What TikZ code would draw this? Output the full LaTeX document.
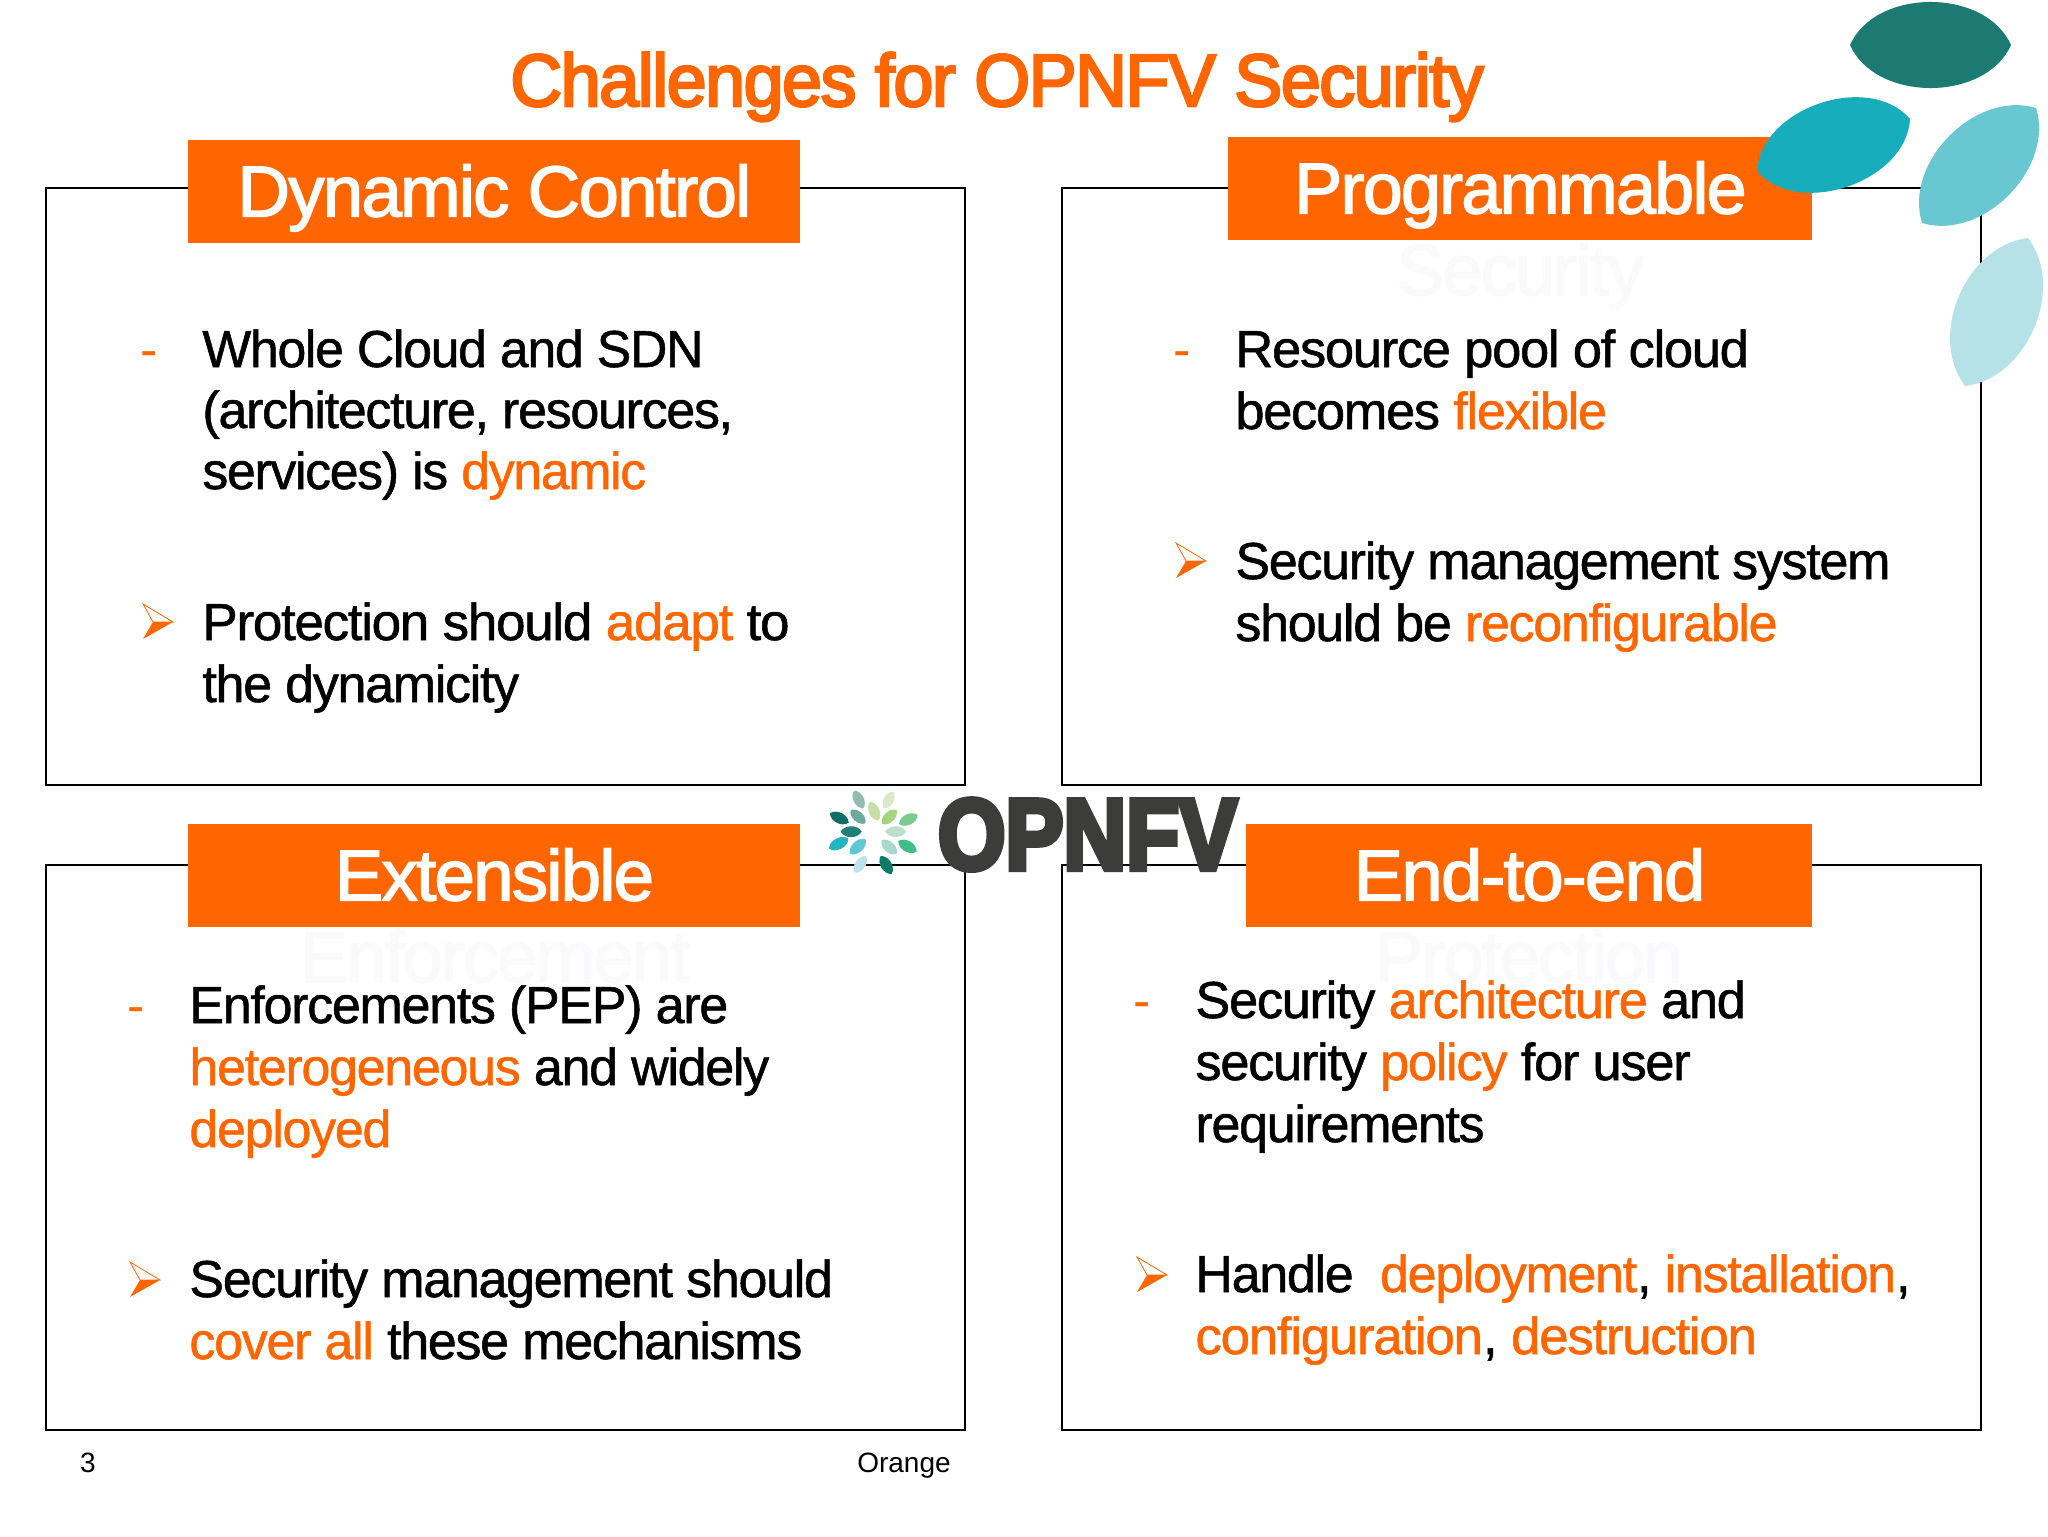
\documentclass[tikz,border=0pt]{standalone}
\usepackage{fontspec}
\setmainfont{Liberation Sans}[LetterSpace=-2.5,FakeBold=1]
\newfontfamily\headfont{Liberation Sans}[LetterSpace=-2,FakeBold=3.5]
\newfontfamily\titlefont{Liberation Sans}[LetterSpace=-2.5,FakeBold=2]
\newfontfamily\logofont{Liberation Sans Bold}[FakeBold=6]
\newfontfamily\plainfont{Liberation Sans}
\definecolor{org}{HTML}{FF6600}
\definecolor{ghost}{HTML}{FAF9FB}
\definecolor{logotxt}{HTML}{3C3C3A}
\newcommand{\hl}[1]{\textcolor{org}{#1}}
\tikzset{
  x=0.5pt,y=-0.5pt,
  panel/.style={draw=black,line width=1pt,fill=none,rectangle,inner sep=0pt,anchor=north west},
  titlebox/.style={fill=org,text=white,rectangle,inner sep=0pt,anchor=north west,minimum height=51.5pt,
     text height=38pt,text depth=13.5pt,font=\titlefont\fontsize{36}{40}\selectfont},
  ghosttext/.style={text=ghost,anchor=base,inner sep=0pt,font=\titlefont\fontsize{36}{40}\selectfont},
  body/.style={anchor=base west,inner sep=0pt,font=\fontsize{26}{31}\selectfont},
  dashbul/.style={anchor=base west,inner sep=0pt,text=org,font=\plainfont\fontsize{26}{31}\selectfont},
  foot/.style={anchor=base,inner sep=0pt,font=\plainfont\fontsize{14}{16}\selectfont},
}
% leaf between two tips: colour, x1,y1, x2,y2, bend
\newcommand{\leaf}[6]{\definecolor{lfc}{HTML}{#1}\fill[lfc] (#2,#3) to[bend left=#6] (#4,#5) to[bend left=#6] cycle;}
% logo petal in 3x zoomed coordinates
\newcommand{\petal}[5]{\leaf{#1}{#2}{#3}{#4}{#5}{62}}
% arrow bullet centred at (x,y)
\newcommand{\arrowbul}[2]{%
  \begin{scope}[shift={(#1,#2)}]
    \fill[org] (15,0) -- (-5,0) -- (-15,17) -- cycle;
    \draw[org,line width=0.4pt,line join=miter] (15,0) -- (-5,0) -- (-15,-18) -- cycle;
  \end{scope}}
\begin{document}
\begin{tikzpicture}
\useasboundingbox (0,0) rectangle (2048,1536);
\fill[white] (0,0) rectangle (2048,1536);

% panels
\node[panel,minimum width=459.5pt,minimum height=298.5pt] (p1) at (44.5,186.5) {};
\node[panel,minimum width=459.5pt,minimum height=298.5pt] (p2) at (1061,186.5) {};
\node[panel,minimum width=459.5pt,minimum height=282.5pt] (p3) at (44.5,863.5) {};
\node[panel,minimum width=459.5pt,minimum height=282.5pt] (p4) at (1061,863.5) {};

% heading
\node[anchor=base,inner sep=0pt,text=org,font=\headfont\fontsize{37}{42}\selectfont,xscale=0.97] (head) at (997,106) {Challenges for OPNFV Security};

% ghost words
\node[ghosttext] (g2) at (1520,295) {Security};
\node[ghosttext] (g3) at (495,982) {Enforcement};
\node[ghosttext] (g4) at (1529,982) {Protection};

% title boxes
\node[titlebox,minimum width=306pt] (t1) at (188,140) {\scalebox{1.01}[1]{Dynamic Control}};
\node[titlebox,minimum width=292pt] (t2) at (1228,137) {Programmable};
\node[titlebox,minimum width=306pt] (t3) at (188,824) {\scalebox{1.01}[1]{Extensible}};
\node[titlebox,minimum width=283pt] (t4) at (1246,824) {\scalebox{1.035}[1]{End-to-end}};

% panel 1
\node[dashbul] (d1) at (140,367) {-};
\node[body,xscale=0.995] (a1) at (202,367) {Whole Cloud and SDN};
\node[body] (a2) at (202,428) {(architecture, resources,};
\node[body,xscale=0.995] (a3) at (202,489) {services) is \hl{dynamic}};
\arrowbul{158}{622}
\node[body,xscale=1.02] (a4) at (202,640) {Protection should \hl{adapt} to};
\node[body] (a5) at (202,702) {the dynamicity};

% panel 2
\node[dashbul] (d2) at (1173,367) {-};
\node[body,xscale=1.01] (b1) at (1235,367) {Resource pool of cloud};
\node[body,xscale=1.007] (b2) at (1235,429) {becomes \hl{flexible}};
\arrowbul{1191}{561}
\node[body] (b3) at (1235,579) {Security management system};
\node[body] (b4) at (1235,641) {should be \hl{reconfigurable}};

% panel 3
\node[dashbul] (d3) at (127,1023) {-};
\node[body] (c1) at (189,1023) {Enforcements (PEP) are};
\node[body] (c2) at (189,1085) {\hl{heterogeneous} and widely};
\node[body] (c3) at (189,1147) {\hl{deployed}};
\arrowbul{145}{1280}
\node[body] (c4) at (189,1297) {Security management should};
\node[body] (c5) at (189,1359) {\hl{cover all} these mechanisms};

% panel 4
\node[dashbul] (d4) at (1133,1018) {-};
\node[body,xscale=1.007] (e1) at (1195,1018) {Security \hl{architecture} and};
\node[body,xscale=1.008] (e2) at (1195,1080) {security \hl{policy} for user};
\node[body] (e3) at (1195,1142) {requirements};
\arrowbul{1152}{1275}
\node[body] (e4) at (1195,1292) {Handle\ \ \hl{deployment}, \hl{installation},};
\node[body,xscale=1.019] (e5) at (1195,1354) {\hl{configuration}, \hl{destruction}};

% footer
\node[foot] (f1) at (88,1472) {3};
\node[foot] (f2) at (904,1472) {Orange};

% logo
\begin{scope}[shift={(780,760)},x=0.5pt/3,y=-0.5pt/3]
  \petal{8FBDB0}{222}{92}{250}{145}
  \petal{DCE8C8}{340}{95}{312}{145}
  \petal{C8DFA8}{270}{125}{295}{182}
  \petal{6FA89C}{212}{150}{256}{190}
  \petal{A3D47E}{350}{150}{306}{192}
  \petal{0F6E64}{150}{160}{206}{188}
  \petal{7ACB8E}{413}{165}{357}{192}
  \petal{1E8078}{182}{215}{245}{215}
  \petal{B9E0CC}{316}{215}{378}{215}
  \petal{22B5C2}{147}{266}{205}{236}
  \petal{5FC9D2}{210}{282}{257}{238}
  \petal{A9D8CC}{305}{240}{350}{282}
  \petal{3FBF85}{355}{243}{410}{275}
  \petal{BDE3EA}{258}{288}{224}{338}
  \petal{0C7C66}{302}{288}{335}{342}
\end{scope}
\node[anchor=base,inner sep=0pt,text=logotxt,xscale=0.868,font=\logofont\fontsize{50}{56}\selectfont] (logo) at (1087.5,869) {OPNFV};

% leaves
\leaf{1C7A72}{1850}{45}{2011}{45}{66}
\leaf{17ADBC}{1757}{171}{1910}{119}{68}
\leaf{68C7D0}{1922}{223}{2036}{108}{62}
\leaf{B5E2E6}{1965}{386}{2028}{238}{60}
\end{tikzpicture}
\end{document}
